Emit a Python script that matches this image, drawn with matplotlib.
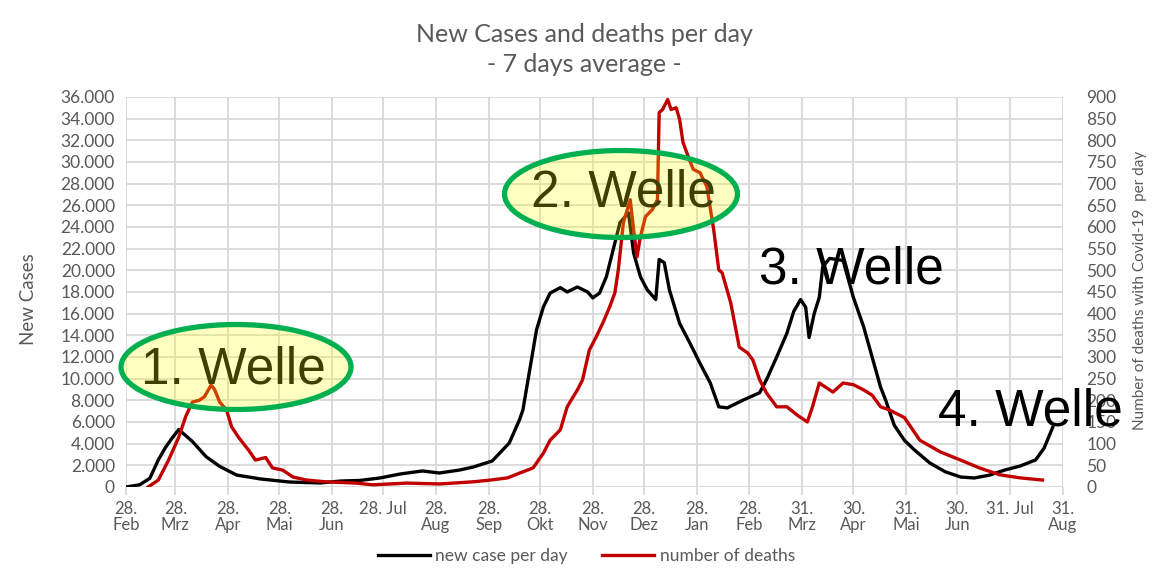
#recreates the covid waves chart (cases and deaths, 7 day average)

import pandas as pd
import numpy as np
import matplotlib
matplotlib.use('Agg')
import matplotlib.pyplot as plt
from matplotlib.patches import Ellipse

plt.rcParams['font.family'] = ['Lato', 'DejaVu Sans']

#new cases per day (left axis)
case_dates = ['2020-02-28', '2020-03-07', '2020-03-13', '2020-03-18', '2020-03-22', '2020-03-26',
              '2020-03-30', '2020-04-07', '2020-04-15', '2020-04-23', '2020-05-03', '2020-05-17',
              '2020-06-03', '2020-06-21', '2020-07-03', '2020-07-14', '2020-07-26', '2020-08-07',
              '2020-08-20', '2020-08-30', '2020-09-11', '2020-09-19', '2020-09-30', '2020-10-10',
              '2020-10-16', '2020-10-18', '2020-10-22', '2020-10-26', '2020-10-30', '2020-11-03',
              '2020-11-09', '2020-11-13', '2020-11-19', '2020-11-25', '2020-11-28', '2020-12-02',
              '2020-12-06', '2020-12-10', '2020-12-14', '2020-12-19', '2020-12-22', '2020-12-26',
              '2020-12-30', '2021-01-04', '2021-01-06', '2021-01-09', '2021-01-12', '2021-01-18',
              '2021-01-24', '2021-01-30', '2021-02-05', '2021-02-10', '2021-02-15', '2021-02-24',
              '2021-03-06', '2021-03-10', '2021-03-16', '2021-03-22', '2021-03-26', '2021-03-30',
              '2021-04-02', '2021-04-04', '2021-04-07', '2021-04-10', '2021-04-12', '2021-04-16',
              '2021-04-24', '2021-04-30', '2021-05-06', '2021-05-11', '2021-05-16', '2021-05-19',
              '2021-05-24', '2021-05-30', '2021-06-05', '2021-06-14', '2021-06-23', '2021-07-02',
              '2021-07-10', '2021-07-19', '2021-07-28', '2021-08-06', '2021-08-15', '2021-08-20',
              '2021-08-25']
cases = [0, 200, 800, 2500, 3600, 4500,
         5300, 4200, 2800, 1900, 1100, 740,
         460, 370, 550, 600, 830, 1200,
         1480, 1290, 1570, 1850, 2400, 4060,
         6200, 7100, 10800, 14500, 16600, 17900,
         18400, 18000, 18460, 18000, 17450, 17900,
         19400, 21900, 24400, 25300, 21600, 19400,
         18200, 17300, 21000, 20700, 18200, 15100,
         13300, 11400, 9600, 7400, 7300, 8000,
         8700, 9900, 12000, 14200, 16200, 17300,
         16600, 13800, 16000, 17500, 20300, 21100,
         20900, 17500, 14800, 12000, 9200, 8000,
         5700, 4300, 3400, 2200, 1400, 920,
         830, 1100, 1570, 1940, 2500, 3600,
         5500]

#number of deaths per day (right axis)
death_dates = ['2020-03-12', '2020-03-18', '2020-03-24', '2020-03-30', '2020-04-03', '2020-04-07',
               '2020-04-11', '2020-04-14', '2020-04-18', '2020-04-20', '2020-04-23', '2020-04-27',
               '2020-04-30', '2020-05-04', '2020-05-10', '2020-05-14', '2020-05-20', '2020-05-24',
               '2020-05-30', '2020-06-05', '2020-06-13', '2020-06-24', '2020-07-12', '2020-07-22',
               '2020-08-11', '2020-08-30', '2020-09-19', '2020-09-29', '2020-10-09', '2020-10-16',
               '2020-10-24', '2020-10-30', '2020-11-03', '2020-11-09', '2020-11-13', '2020-11-19',
               '2020-11-22', '2020-11-26', '2020-11-30', '2020-12-04', '2020-12-08', '2020-12-11',
               '2020-12-13', '2020-12-16', '2020-12-20', '2020-12-22', '2020-12-24', '2020-12-26',
               '2020-12-29', '2021-01-02', '2021-01-05', '2021-01-06', '2021-01-08', '2021-01-11',
               '2021-01-13', '2021-01-16', '2021-01-18', '2021-01-20', '2021-01-23', '2021-01-26',
               '2021-01-30', '2021-02-03', '2021-02-07', '2021-02-10', '2021-02-12', '2021-02-17',
               '2021-02-22', '2021-02-27', '2021-03-02', '2021-03-06', '2021-03-10', '2021-03-16',
               '2021-03-22', '2021-03-28', '2021-04-03', '2021-04-06', '2021-04-10', '2021-04-18',
               '2021-04-24', '2021-04-30', '2021-05-06', '2021-05-11', '2021-05-16', '2021-05-21',
               '2021-05-30', '2021-06-08', '2021-06-20', '2021-07-02', '2021-07-13', '2021-07-25',
               '2021-08-06', '2021-08-19']
deaths = [0, 16, 62, 115, 162, 196,
          200, 208, 235, 225, 196, 178,
          139, 115, 85, 62, 68, 44,
          39, 23, 16, 12, 9, 5,
          9, 7, 12, 16, 21, 32,
          44, 78, 108, 132, 185, 224,
          247, 316, 346, 379, 416, 448,
          501, 610, 663, 594, 531, 578,
          624, 640, 663, 864, 871, 894,
          871, 875, 848, 795, 763, 733,
          725, 693, 594, 501, 494, 425,
          323, 309, 293, 247, 217, 185,
          185, 166, 150, 185, 240, 219,
          240, 236, 224, 212, 185, 178,
          160, 108, 81, 62, 44, 28,
          21, 16]

tick_dates = ['2020-02-28', '2020-03-28', '2020-04-28', '2020-05-28', '2020-06-28', '2020-07-28',
              '2020-08-28', '2020-09-28', '2020-10-28', '2020-11-28', '2020-12-28', '2021-01-28',
              '2021-02-28', '2021-03-31', '2021-04-30', '2021-05-31', '2021-06-30', '2021-07-31',
              '2021-08-31']
tick_labels = ['28.\nFeb', '28.\nMrz', '28.\nApr', '28.\nMai', '28.\nJun', '28. Jul\n ',
               '28.\nAug', '28.\nSep', '28.\nOkt', '28.\nNov', '28.\nDez', '28.\nJan',
               '28.\nFeb', '31.\nMrz', '30.\nApr', '31.\nMai', '30.\nJun', '31. Jul\n ',
               '31.\nAug']

grey = '#595959'
grid = '#d9d9d9'

fig = plt.figure(figsize=(11.61, 5.77), dpi=100)
ax = fig.add_axes([0.1085, 0.156, 0.807, 0.676])
ax2 = ax.twinx()

ax.plot(pd.to_datetime(case_dates), cases, color='black', lw=2.4, label='new case per day', zorder=3)
ax2.plot(pd.to_datetime(death_dates), deaths, color='#c00000', lw=2.4, label='number of deaths', zorder=3)

ax.set_xlim(pd.Timestamp(tick_dates[0]), pd.Timestamp(tick_dates[-1]))
ax.set_xticks(pd.to_datetime(tick_dates))
ax.set_xticklabels(tick_labels, fontsize=12, color=grey, linespacing=1.0)
ax.tick_params(axis='x', length=6, color=grid, width=1.3, pad=4)

ax.set_ylim(0, 36000)
ax.set_yticks(np.arange(0, 36001, 2000))
ax.set_yticklabels([f'{v:,}'.replace(',', '.') for v in range(0, 36001, 2000)], fontsize=12.5, color=grey)
ax.tick_params(axis='y', length=0, pad=8)

ax2.set_ylim(0, 900)
ax2.set_yticks(np.arange(0, 901, 50))
ax2.set_yticklabels([str(v) for v in range(0, 901, 50)], fontsize=12.5, color=grey)
ax2.tick_params(axis='y', length=0, pad=17)

ax.grid(True, color=grid, lw=1.3)
ax.set_axisbelow(True)
for a in (ax, ax2):
    for s in a.spines.values():
        s.set_visible(False)

ax.set_ylabel('New Cases', fontsize=13.5, color=grey)
ax.yaxis.set_label_coords(-0.095, 0.482)
fig.text(0.982, 1 - 290 / 577, 'Number of deaths with Covid-19  per day', rotation=90, fontsize=11,
         color=grey, ha='center', va='center')

fig.text(0.503, 1 - 35 / 577, 'New Cases and deaths per day', fontsize=18, color=grey, ha='center', va='center')
fig.text(0.503, 1 - 64 / 577, '- 7 days average -', fontsize=18, color=grey, ha='center', va='center')

#wave annotations
W, H = 1161, 577
def welle(text, x, y, ring=None):
    fig.text(x / W, 1 - y / H, text, fontsize=37, family='Liberation Sans', color='black',
             ha='center', va='center', zorder=1)
    if ring:
        fig.patches.append(Ellipse((ring[0] / W, 1 - ring[1] / H), ring[2] / W, ring[3] / H,
                                   transform=fig.transFigure, facecolor=(1, 1, 0, 0.25),
                                   edgecolor='#00b050', lw=3.8, zorder=2))

welle('1. Welle', 233, 370, (236, 367, 230, 85))
welle('2. Welle', 623, 193, (621, 194, 233, 87))
welle('3. Welle', 851, 270)
welle('4. Welle', 1030, 412)

h1, l1 = ax.get_legend_handles_labels()
h2, l2 = ax2.get_legend_handles_labels()
fig.legend(h1 + h2, l1 + l2, loc='center', bbox_to_anchor=(0.505, 0.036), ncol=2, frameon=False,
           fontsize=12.5, labelcolor=grey, handlelength=3.0, handletextpad=0.3, columnspacing=2.0)

fig.savefig('out.png', dpi=100)
